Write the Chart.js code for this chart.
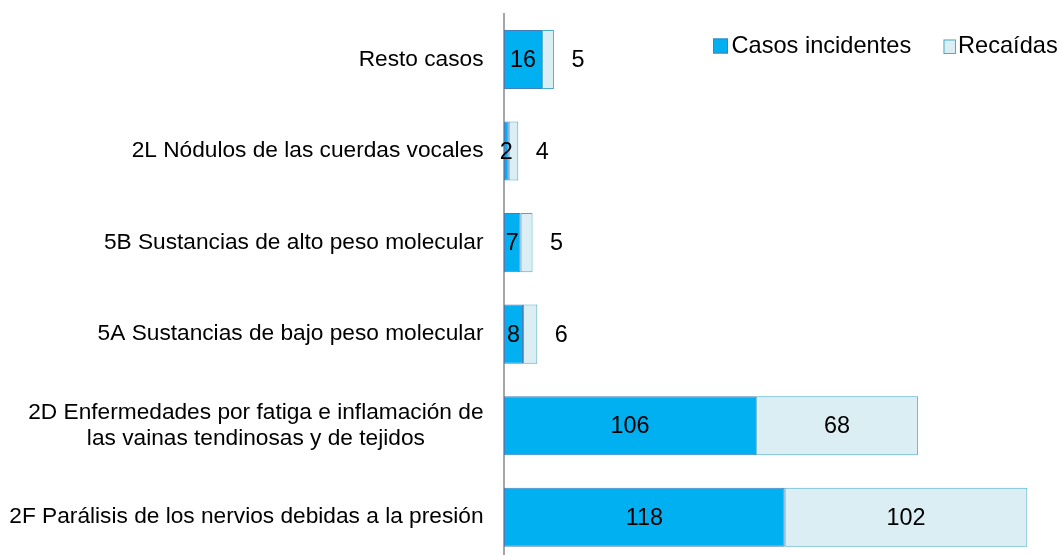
<!DOCTYPE html>
<html>
<head>
<meta charset="utf-8">
<script src="https://cdn.jsdelivr.net/npm/chart.js@4.4.1/dist/chart.umd.min.js"></script>
<style>
  html, body { margin: 0; padding: 0; overflow: hidden; background: #fff; width: 1063px; height: 555px; }
  #wrap { position: absolute; left: 0; top: 0; width: 1063px; height: 563px; }
</style>
</head>
<body>
<div id="wrap"><canvas id="c"></canvas></div>
<script>
const categories = [
  ["Resto casos"],
  ["2L Nódulos de las cuerdas vocales"],
  ["5B Sustancias de alto peso molecular"],
  ["5A Sustancias de bajo peso molecular"],
  ["2D Enfermedades por fatiga e inflamación de", "las vainas tendinosas y de tejidos"],
  ["2F Parálisis de los nervios debidas a la presión"]
];
const casosIncidentes = [16, 2, 7, 8, 106, 118];
const recaidas = [5, 4, 5, 6, 68, 102];
const seriesNames = ["Casos incidentes", "Recaídas"];

const FONT = '"Liberation Sans", Arial, sans-serif';

const customDraw = {
  id: 'customDraw',
  afterDatasetsDraw(chart) {
    const ctx = chart.ctx;
    const yScale = chart.scales.y;
    ctx.save();
    // value labels
    ctx.fillStyle = '#000';
    ctx.font = '23.4px ' + FONT;
    ctx.textBaseline = 'middle';
    ctx.textAlign = 'center';
    chart.data.datasets.forEach((ds, di) => {
      const meta = chart.getDatasetMeta(di);
      meta.data.forEach((bar, i) => {
        const v = ds.data[i];
        const left = Math.min(bar.x, bar.base);
        const right = Math.max(bar.x, bar.base);
        const w = right - left;
        let x;
        if (di === 1 && w < 30) x = right + 24;
        else x = (left + right) / 2;
        ctx.fillText(String(v), x, bar.y + 1);
      });
    });
    // category labels
    ctx.font = '22.7px ' + FONT;
    const rightX = 483.5;
    const lineH = 26;
    chart.data.labels.forEach((lines, i) => {
      const yc = yScale.getPixelForValue(i);
      const n = lines.length;
      if (n === 1) {
        ctx.textAlign = 'right';
        ctx.fillText(lines[0], rightX, yc);
      } else {
        const maxW = Math.max(...lines.map(l => ctx.measureText(l).width));
        const cx = rightX - maxW / 2;
        ctx.textAlign = 'center';
        lines.forEach((l, k) => {
          ctx.fillText(l, cx, yc + (k - (n - 1) / 2) * lineH);
        });
      }
    });
    // legend
    const legendItems = [
      { box: [713, 38.5, 15, 15], textX: 731.5 },
      { box: [943.5, 39.5, 12.5, 14.5], textX: 958 }
    ];
    ctx.font = '23.6px ' + FONT;
    ctx.textAlign = 'left';
    chart.data.datasets.forEach((ds, di) => {
      const it = legendItems[di];
      const [bx, by, bw, bh] = it.box;
      ctx.fillStyle = ds.backgroundColor;
      ctx.fillRect(bx, by, bw, bh);
      ctx.strokeStyle = ds.borderColor;
      ctx.lineWidth = 1;
      ctx.strokeRect(bx + 0.5, by + 0.5, bw - 1, bh - 1);
      ctx.fillStyle = '#000';
      ctx.fillText(ds.label, it.textX, 46.5);
    });
    ctx.restore();
  }
};

new Chart(document.getElementById('c'), {
  type: 'bar',
  data: {
    labels: categories,
    datasets: [
      {
        label: seriesNames[0],
        data: casosIncidentes,
        backgroundColor: '#00B0F0',
        borderColor: '#4A7EBB',
        borderWidth: 1,
        borderSkipped: false,
        barPercentage: 0.645,
        categoryPercentage: 1
      },
      {
        label: seriesNames[1],
        data: recaidas,
        backgroundColor: '#DAEEF3',
        borderColor: '#4BACC6',
        borderWidth: 1,
        borderSkipped: false,
        barPercentage: 0.645,
        categoryPercentage: 1
      }
    ]
  },
  options: {
    indexAxis: 'y',
    responsive: true,
    maintainAspectRatio: false,
    animation: false,
    layout: { padding: { top: 13.75, bottom: 0, left: 0, right: 0 } },
    plugins: {
      legend: { display: false },
      tooltip: { enabled: false }
    },
    scales: {
      x: {
        stacked: true,
        min: 0,
        max: 235,
        display: false
      },
      y: {
        stacked: true,
        grid: { display: false, drawTicks: false },
        border: { display: true, color: '#A6A6A6', width: 2 },
        ticks: { display: false },
        afterFit(scale) { scale.width = 504; }
      }
    }
  },
  plugins: [customDraw]
});
</script>
</body>
</html>
